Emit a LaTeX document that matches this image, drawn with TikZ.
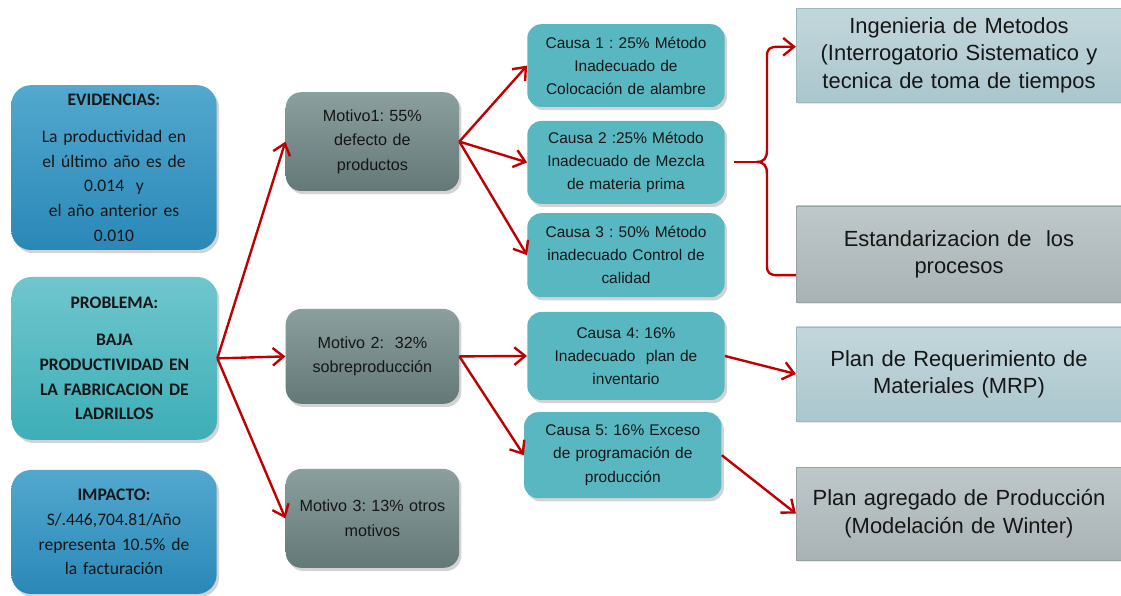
\documentclass[tikz,border=0pt]{standalone}
\usepackage{fontspec}
\setmainfont{Liberation Sans}
\newfontfamily\calibrifont{Carlito}
\usetikzlibrary{shadows,arrows.meta}
\frenchspacing

\definecolor{evidtop}{HTML}{52A8CE}
\definecolor{evidbot}{HTML}{2A88B8}
\definecolor{probtop}{HTML}{70C6CD}
\definecolor{probbot}{HTML}{3DAEB7}
\definecolor{mottop}{HTML}{8B9F9F}
\definecolor{motbot}{HTML}{637877}
\definecolor{causafill}{HTML}{58B7C0}
\definecolor{soltop}{HTML}{C2D7DC}
\definecolor{solbot}{HTML}{ABC6CD}
\definecolor{solline}{HTML}{9DB9C0}
\definecolor{stdtop}{HTML}{BEC7C9}
\definecolor{stdbot}{HTML}{A9B3B5}
\definecolor{stdline}{HTML}{98A3A5}
\definecolor{redline}{HTML}{C00000}
\definecolor{txt}{HTML}{161616}

\begin{document}
\begin{tikzpicture}[
    shade box/.style={rounded corners=14pt, align=center, text=txt,
        drop shadow={shadow xshift=0.6mm, shadow yshift=-0.8mm, opacity=0.35}},
    leftbox/.style={shade box, top color=#1top, bottom color=#1bot,
        minimum width=5.07cm, text width=4.9cm,
        font=\calibrifont\fontsize{12.5}{17.6}\selectfont},
    motbox/.style={shade box, rounded corners=11pt, top color=mottop, bottom color=motbot,
        minimum width=4.32cm, text width=4.1cm,
        font=\fontsize{11.5}{17.4}\selectfont},
    causabox/.style={shade box, rounded corners=10pt, fill=causafill,
        minimum width=4.85cm, text width=4.7cm,
        font=\fontsize{11}{16.4}\selectfont},
    solbox/.style={align=center, text=txt, draw=#1line, line width=0.6pt,
        top color=#1top, bottom color=#1bot,
        minimum width=8cm, minimum height=2.35cm, text width=7.9cm,
        font=\fontsize{15.6}{19.4}\selectfont,
        drop shadow={shadow xshift=0.4mm, shadow yshift=-0.5mm, opacity=0.2}},
    flecha/.style={draw=redline, line width=1.7pt,
        -{Straight Barb[length=2.7mm, width=4.4mm]}},
    brace/.style={draw=redline, line width=1.7pt}
]
    \useasboundingbox (0,0) rectangle (28.025,14.9);

    % Left column: evidence, problem and impact
    \node[leftbox=evid, minimum height=4.12cm] (evid) at (2.85,10.71)
        {\textbf{EVIDENCIAS:}\\[9pt] La productividad en\\ el último año es de\\ 0.014 \ y\\ el año anterior es\\ 0.010};
    \node[leftbox=prob, minimum height=4.07cm] (prob) at (2.86,5.94)
        {\textbf{PROBLEMA:}\\[9pt] \textbf{BAJA}\\ \textbf{PRODUCTIVIDAD EN}\\ \textbf{LA FABRICACION DE}\\ \textbf{LADRILLOS}};
    \node[leftbox=evid, minimum height=3.1cm] (imp) at (2.85,1.6)
        {\textbf{IMPACTO:}\\ S/.446,704.81/Año\\ representa 10.5\% de\\ la facturación};

    % Motives
    \node[motbox, minimum height=2.47cm] (mot1) at (9.31,11.36) {Motivo1: 55\%\\ defecto de\\ productos};
    \node[motbox, minimum height=2.37cm] (mot2) at (9.31,5.99) {Motivo 2: \ 32\%\\ sobreproducción};
    \node[motbox, minimum height=2.47cm] (mot3) at (9.31,1.94) {Motivo 3: 13\% otros\\ motivos};

    % Causes
    \node[causabox, minimum height=2.07cm] (c1) at (15.65,13.26) {Causa 1 : 25\% Método\\ Inadecuado de\\ Colocación de alambre};
    \node[causabox, minimum height=2.07cm] (c2) at (15.65,10.84) {Causa 2 :25\% Método\\ Inadecuado de Mezcla\\ de materia prima};
    \node[causabox, minimum height=2.1cm] (c3) at (15.65,8.52) {Causa 3 : 50\% Método\\ inadecuado Control de\\ calidad};
    \node[causabox, minimum height=2.2cm] (c4) at (15.65,6.0) {Causa 4: 16\%\\ Inadecuado \ plan de\\ inventario};
    \node[causabox, minimum height=2.15cm, minimum width=4.9cm] (c5) at (15.57,3.52) {Causa 5: 16\% Exceso\\ de programación de\\ producción};

    % Solutions
    \node[solbox=sol] (ing) at (23.975,13.52) {Ingenieria de Metodos\\ (Interrogatorio Sistematico y\\ tecnica de toma de tiempos};
    \node[solbox=std, minimum height=2.4cm] (est) at (23.975,8.55) {Estandarizacion de \ los\\ procesos};
    \node[solbox=sol] (mrp) at (23.975,5.55) {Plan de Requerimiento de\\ Materiales (MRP)};
    \node[solbox=std, minimum height=2.32cm] (agr) at (23.975,2.06) {Plan agregado de Producción\\ (Modelación de Winter)};

    % Arrows problem -> motives
    \draw[flecha] (prob.east) -- (mot1.west);
    \draw[flecha] (prob.east) -- (mot2.west);
    \draw[flecha] (prob.east) -- (mot3.west);

    % Arrows motives -> causes
    \draw[flecha] (mot1.east) -- (c1.west);
    \draw[flecha] (mot1.east) -- (c2.west);
    \draw[flecha] (mot1.east) -- (c3.west);
    \draw[flecha] (mot2.east) -- (c4.west);
    \draw[flecha] (mot2.east) -- (c5.west);

    % Arrows causes -> solutions
    \draw[flecha] (c4.east) -- (mrp.west);
    \draw[flecha] (c5.east) -- (agr.west);

    % Brace from cause 2 to the two solutions
    \coordinate (bstart) at (18.35,10.85);
    \coordinate (btip) at (18.92,10.85);
    \coordinate (bup) at (19.45,13.73);
    \coordinate (blo) at (19.45,8.02);
    \draw[brace] (bstart) -- (btip);
    \draw[flecha] (btip) .. controls (19.1,10.85) and (19.175,10.95) .. (19.175,11.15)
        -- (19.175,13.5) .. controls (19.175,13.68) and (19.25,13.73) .. (bup) -- (ing.west |- bup);
    \draw[brace] (btip) .. controls (19.1,10.85) and (19.175,10.75) .. (19.175,10.55)
        -- (19.175,8.25) .. controls (19.175,8.07) and (19.25,8.02) .. (blo) -- (est.west |- blo);

\end{tikzpicture}
\end{document}
